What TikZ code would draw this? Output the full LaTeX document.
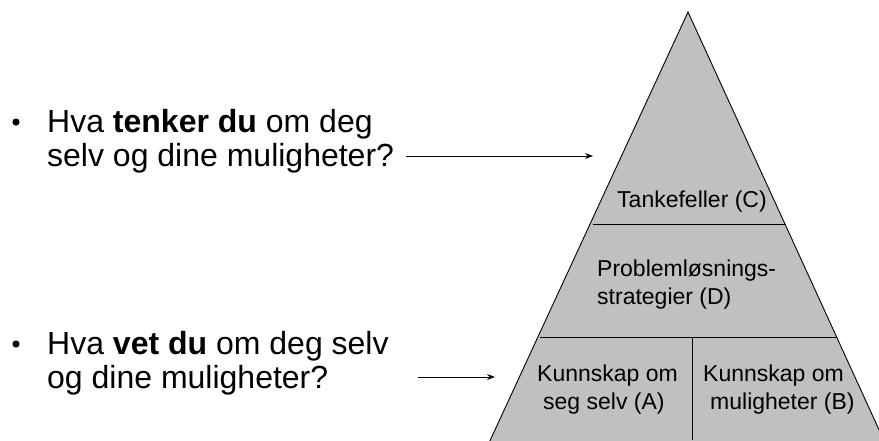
\documentclass[tikz,border=0pt]{standalone}
\usepackage{fontspec}
\setmainfont{Liberation Sans}
\usetikzlibrary{arrows.meta}
\definecolor{pyr}{HTML}{C0C0C0}
\begin{document}
\begin{tikzpicture}[x=1pt,y=-1pt,
  big/.style={font=\fontsize{32}{35}\selectfont, anchor=base west, inner sep=0pt},
  small/.style={font=\fontsize{23}{28}\selectfont, anchor=base west, inner sep=0pt},
  arr/.style={-{Stealth[length=8pt,width=6pt]}, line width=0.9pt},
  edge/.style={line width=0.9pt}]
\useasboundingbox (0,0) rectangle (879,440);
\begin{scope}
\clip (0,0) rectangle (879,440);
\draw[fill=pyr, edge] (688,12) -- (488,445) -- (886,445) -- cycle;
\end{scope}
\coordinate (c1l) at (592.5,224);
\coordinate (c1r) at (784.5,224);
\coordinate (c2l) at (540,337);
\coordinate (c2r) at (835.5,337);
\coordinate (vt) at (692,337);
\coordinate (vb) at (692,440);
\draw[edge] (c1l) -- (c1r);
\draw[edge] (c2l) -- (c2r);
\draw[edge] (vt) -- (vb);
\node[small] (tc) at (617,207) {Tankefeller (C)};
\node[small] (d1) at (597,276) {Problemløsnings-};
\node[small] (d2) at (597,304) {strategier (D)};
\node[small] (a1) at (537,381) {Kunnskap om};
\node[small] (a2) at (543,409) {seg selv (A)};
\node[small] (b1) at (703,381) {Kunnskap om};
\node[small] (b2) at (710,409) {muligheter (B)};
\fill (16,122) circle (3.6) coordinate (bul1);
\node[big] (q1a) at (47,132) {Hva \textbf{tenker du} om deg};
\node[big] (q1b) at (47,166) {selv og dine muligheter?};
\fill (16,344) circle (3.6) coordinate (bul2);
\node[big] (q2a) at (47,354) {Hva \textbf{vet du} om deg selv};
\node[big] (q2b) at (47,388) {og dine muligheter?};
\coordinate (s1) at (406,156);
\coordinate (t1) at (593,156);
\coordinate (s2) at (418,377);
\coordinate (t2) at (495,377);
\draw[arr] (s1) -- (t1);
\draw[arr] (s2) -- (t2);
\end{tikzpicture}
\end{document}
